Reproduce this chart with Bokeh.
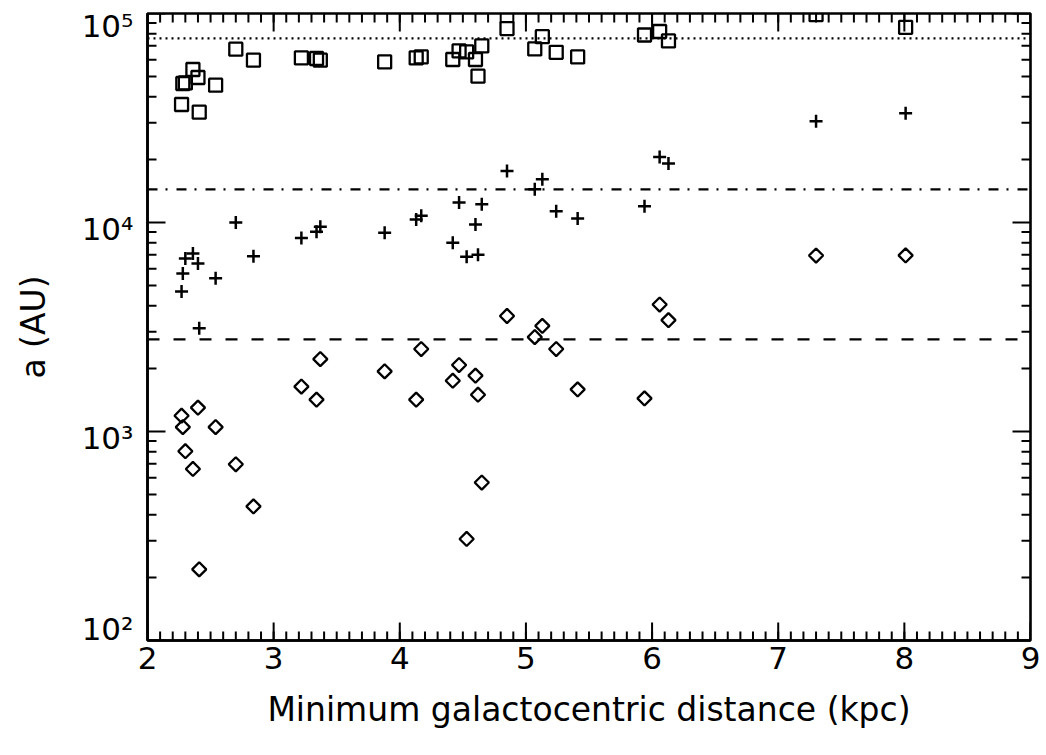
import numpy as np
from bokeh.plotting import figure
from bokeh.models import (FixedTicker, Span, Range1d, LinearAxis, LinearScale,
                          CustomJSTickFormatter)
from bokeh.embed import file_html
from bokeh.resources import INLINE

# Minimum galactocentric distance of each system (kpc)
r_min = [2.27, 2.28, 2.30, 2.36, 2.40, 2.41, 2.54, 2.70, 2.84, 3.22,
         3.34, 3.37, 3.88, 4.13, 4.17, 4.42, 4.47, 4.53, 4.60, 4.62,
         4.65, 4.85, 5.07, 5.13, 5.24, 5.41, 5.94, 6.06, 6.13, 7.30, 8.01]

# Separation limits a (AU) for three cases
a_square = [36700, 46240, 46550, 53960, 49410, 33710, 45390, 67480, 59780, 61320,
            60910, 59780, 58660, 61320, 61990, 60240, 66230, 65520, 60240, 50120,
            69980, 84700, 67700, 77450, 65230, 61990, 78900, 82000, 73950, 98700, 85900]
a_plus = [4680, 5700, 6730, 7110, 6360, 3120, 5410, 10000, 6900, 8440,
          9020, 9530, 8920, 10340, 10760, 7990, 12470, 6850, 9780, 7000,
          12240, 17650, 14430, 16120, 11330, 10450, 11970, 20600, 19160, 30530, 33340]
a_diamond = [1190, 1050, 805, 662, 1300, 219, 1050, 697, 438, 1640,
             1420, 2220, 1940, 1420, 2480, 1750, 2080, 306, 1850, 1500,
             570, 3570, 2830, 3200, 2480, 1590, 1440, 4050, 3410, 6950, 6960]

# Reference levels: dotted, dash-dot, dashed
ref_levels = [76000, 14400, 2760]
ref_dashes = ["2 4", "10 8 2 9", "12 14"]

x_lo, x_hi = 2, 9
y_lo, y_hi = 1e2, 1e5
x_major = [2, 3, 4, 5, 6, 7, 8, 9]
x_minor = [2 + i / 10 for i in range(71)]
y_major = [1e2, 1e3, 1e4, 1e5]
y_minor = [m * 10 ** e for e in (2, 3, 4) for m in range(2, 10)]

FONT = "DejaVu Sans"
MAJ, MIN = 18, 9
FRAME_H = 627
SUP = str.maketrans("0123456789-", "⁰¹²³⁴⁵⁶⁷⁸⁹⁻")
EPS = 1e-6  # keeps tick anchors on the frame edge inside the visible range

p = figure(width=1046, height=755, x_range=(x_lo, x_hi),
           y_range=(y_lo * (1 - EPS), y_hi * (1 + EPS)),
           y_axis_type="log", output_backend="svg", toolbar_location=None,
           min_border_left=147, min_border_right=16, min_border_top=13,
           min_border_bottom=115)
p.grid.visible = False
p.outline_line_color = "black"
p.outline_line_width = 2.6
p.background_fill_color = None
p.border_fill_color = "white"


def style_axis(ax):
    ax.axis_line_width = 2.6
    ax.axis_line_color = "black"
    ax.major_tick_in = 0
    ax.major_tick_out = 0
    ax.minor_tick_in = 0
    ax.minor_tick_out = 0
    ax.major_label_text_font = FONT
    ax.major_label_text_color = "black"
    ax.axis_label_text_font = FONT
    ax.axis_label_text_font_style = "normal"
    ax.axis_label_text_color = "black"


xa = p.xaxis[0]
xa.ticker = FixedTicker(ticks=x_major, minor_ticks=x_minor)
style_axis(xa)
xa.major_label_text_font_size = "31px"
xa.major_label_standoff = 6
xa.axis_label = "Minimum galactocentric distance (kpc)"
xa.axis_label_text_font_size = "33px"
xa.axis_label_standoff = 18

p.yaxis[0].visible = False

# Decade labels sit on a unit-fraction axis so each can be nudged vertically
# (end labels are kept inside the frame height, the rest sit just below their tick)
lab_pos, lab_text = [], []
for v in y_major:
    expo = int(round(np.log10(v)))
    if v == y_hi:
        dy = -12
    elif v == y_lo:
        dy = 12
    else:
        dy = -6
    frac = (np.log10(v) - np.log10(y_lo)) / (np.log10(y_hi) - np.log10(y_lo))
    lab_pos.append(float(frac + dy / FRAME_H))
    lab_text.append("10" + str(expo).translate(SUP))

p.extra_y_ranges = {"labels": Range1d(0, 1)}
p.extra_y_scales = {"labels": LinearScale()}
ya = LinearAxis(y_range_name="labels",
                ticker=FixedTicker(ticks=lab_pos, minor_ticks=[]),
                formatter=CustomJSTickFormatter(args=dict(labels=lab_text),
                                                code="return labels[index];"))
style_axis(ya)
ya.major_label_text_font_size = "31px"
ya.major_label_standoff = 14
ya.axis_label = "a (AU)"
ya.axis_label_text_font_size = "33px"
ya.axis_label_standoff = 26
p.add_layout(ya, "left")

# Inward ticks on all four edges of the frame
tick_style = dict(line_color="black", line_width=2, length_units="screen")
for xs, ln in ((x_major, MAJ), (x_minor, MIN)):
    p.ray(x=xs, y=[y_hi] * len(xs), length=ln, angle=-np.pi / 2, **tick_style)
    p.ray(x=xs, y=[y_lo] * len(xs), length=ln, angle=np.pi / 2, **tick_style)
for ys, ln in ((y_major, MAJ), (y_minor, MIN)):
    p.ray(x=[x_lo] * len(ys), y=ys, length=ln, angle=0, **tick_style)
    p.ray(x=[x_hi] * len(ys), y=ys, length=ln, angle=np.pi, **tick_style)

for lvl, dash in zip(ref_levels, ref_dashes):
    p.add_layout(Span(location=lvl, dimension="width", line_color="black",
                      line_width=2.2, line_dash=dash))

p.scatter(r_min, a_square, marker="square", size=13, fill_color=None,
          line_color="black", line_width=2.3)
p.scatter(r_min, a_plus, marker="cross", size=13, line_color="black",
          line_width=2.5)
p.scatter(r_min, a_diamond, marker="square", angle=np.pi / 4, size=10,
          fill_color=None, line_color="black", line_width=2.3)

open("out.html", "w").write(file_html(p, INLINE))
